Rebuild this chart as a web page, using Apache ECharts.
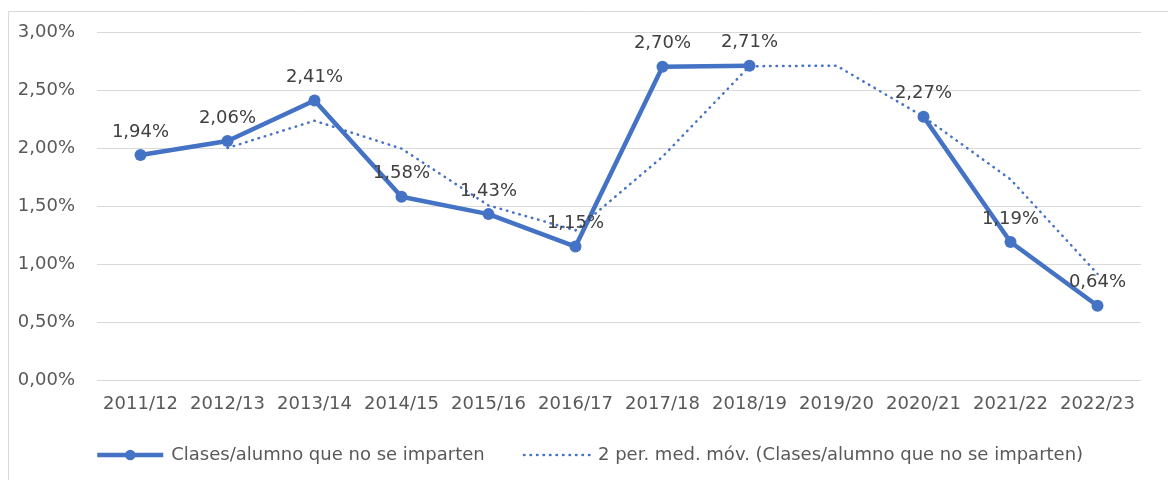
<!DOCTYPE html>
<html>
<head>
<meta charset="utf-8">
<script src="https://cdn.jsdelivr.net/npm/echarts@6/dist/echarts.min.js"></script>
<style>
  body { margin: 0; background: #fff; }
  #chart { width: 1168px; height: 480px; }
</style>
</head>
<body>
<div id="chart"></div>
<script>
const categories = ['2011/12', '2012/13', '2013/14', '2014/15', '2015/16', '2016/17',
  '2017/18', '2018/19', '2019/20', '2020/21', '2021/22', '2022/23']
// porcentaje de clases/alumno que no se imparten (2019/20 sin dato)
const clases = [1.94, 2.06, 2.41, 1.58, 1.43, 1.15, 2.70, 2.71, null, 2.27, 1.19, 0.64]
// media móvil de 2 periodos
const mediaMovil = [null, 2.00, 2.235, 1.995, 1.505, 1.29, 1.925, 2.705, 2.71, 2.27, 1.73, 0.915]
const yTicks = [0, 0.5, 1, 1.5, 2, 2.5, 3]

const blue = '#4472C4'
const grey = '#595959'
const font = 'DejaVu Sans'
const fs = 18
const pct = (v) => v.toFixed(2).replace('.', ',') + '%'
const dotted = {color: blue, width: 2.5, type: [0.5, 6], cap: 'round'}

const chart = echarts.init(document.getElementById('chart'))
chart.setOption({
  animation: false,
  textStyle: {fontFamily: font},
  graphic: [{
    type: 'rect',
    shape: {x: 8.5, y: 11.5, width: 1200, height: 500},
    style: {fill: 'none', stroke: '#d9d9d9', lineWidth: 1},
    silent: true
  }],
  grid: {left: 97, right: 27, top: 32, bottom: 100},
  legend: {
    bottom: 11,
    left: 90,
    itemGap: 38,
    itemWidth: 66,
    itemHeight: 13,
    textStyle: {color: grey, fontSize: fs, fontFamily: font, padding: [0, 0, 0, 3]},
    data: [
      {name: 'Clases/alumno que no se imparten', lineStyle: {width: 4.5}},
      {name: '2 per. med. móv. (Clases/alumno que no se imparten)', itemStyle: {opacity: 0}, lineStyle: dotted}
    ]
  },
  xAxis: {
    type: 'category',
    data: categories,
    boundaryGap: true,
    axisLine: {show: false},
    axisTick: {show: false},
    axisLabel: {color: grey, fontSize: fs, margin: 15, interval: 0}
  },
  yAxis: {
    type: 'value',
    min: yTicks[0],
    max: yTicks[yTicks.length - 1],
    interval: 0.5,
    axisLine: {show: false},
    axisTick: {show: false},
    splitLine: {lineStyle: {color: '#d9d9d9', width: 1}},
    axisLabel: {color: grey, fontSize: fs, margin: 22, formatter: pct}
  },
  series: [
    {
      name: 'Clases/alumno que no se imparten',
      type: 'line',
      data: clases,
      connectNulls: false,
      symbol: 'circle',
      symbolSize: 12,
      z: 3,
      lineStyle: {color: blue, width: 4.5},
      itemStyle: {color: blue},
      label: {
        show: true,
        position: 'top',
        distance: 8,
        color: '#404040',
        fontSize: fs,
        fontFamily: font,
        formatter: (p) => pct(p.value)
      }
    },
    {
      name: '2 per. med. móv. (Clases/alumno que no se imparten)',
      type: 'line',
      data: mediaMovil,
      symbol: 'none',
      z: 2,
      lineStyle: dotted,
      itemStyle: {color: blue}
    }
  ]
})
</script>
</body>
</html>
